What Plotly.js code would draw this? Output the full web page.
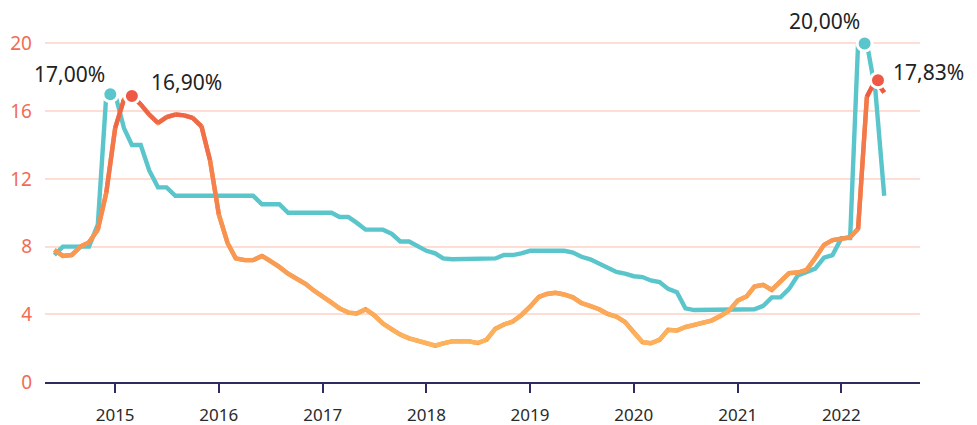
<!DOCTYPE html>
<html>
<head>
<meta charset="utf-8">
<script src="https://cdn.plot.ly/plotly-3.0.1.min.js"></script>
<style>html,body{margin:0;padding:0;background:#fff;}#chart{width:977px;height:425px;}</style>
</head>
<body>
<div id="chart"></div>
<script>
// Monthly dates (Jun 2014 – Jun 2022)
const months = [
 '2014-06','2014-07','2014-08','2014-09','2014-10','2014-11','2014-12',
 '2015-01','2015-02','2015-03','2015-04','2015-05','2015-06','2015-07','2015-08','2015-09','2015-10','2015-11','2015-12',
 '2016-01','2016-02','2016-03','2016-04','2016-05','2016-06','2016-07','2016-08','2016-09','2016-10','2016-11','2016-12',
 '2017-01','2017-02','2017-03','2017-04','2017-05','2017-06','2017-07','2017-08','2017-09','2017-10','2017-11','2017-12',
 '2018-01','2018-02','2018-03','2018-04','2018-05','2018-06','2018-07','2018-08','2018-09','2018-10','2018-11','2018-12',
 '2019-01','2019-02','2019-03','2019-04','2019-05','2019-06','2019-07','2019-08','2019-09','2019-10','2019-11','2019-12',
 '2020-01','2020-02','2020-03','2020-04','2020-05','2020-06','2020-07','2020-08','2020-09','2020-10','2020-11','2020-12',
 '2021-01','2021-02','2021-03','2021-04','2021-05','2021-06','2021-07','2021-08','2021-09','2021-10','2021-11','2021-12',
 '2022-01','2022-02','2022-03','2022-04','2022-05','2022-06'
];

// Key rate (teal)
const keyRate = [
 7.5, 8.0, 8.0, 8.0, 8.0, 9.3, 17.0,
 17.0, 15.0, 14.0, 14.0, 12.5, 11.5, 11.5, 11.0, 11.0, 11.0, 11.0, 11.0,
 11.0, 11.0, 11.0, 11.0, 11.0, 10.5, 10.5, 10.5, 10.0, 10.0, 10.0, 10.0,
 10.0, 10.0, 9.75, 9.75, 9.4, 9.0, 9.0, 9.0, 8.75, 8.3, 8.3, 8.0,
 7.75, 7.6, 7.3, 7.25, 7.25, 7.25, 7.25, 7.25, 7.3, 7.5, 7.5, 7.6,
 7.75, 7.75, 7.75, 7.75, 7.75, 7.65, 7.4, 7.25, 7.0, 6.75, 6.5, 6.4,
 6.25, 6.2, 6.0, 5.9, 5.5, 5.3, 4.35, 4.25, 4.25, 4.25, 4.25, 4.25,
 4.25, 4.25, 4.3, 4.5, 5.0, 5.0, 5.5, 6.3, 6.5, 6.7, 7.35, 7.5,
 8.5, 8.5, 20.0, 20.0, 17.2, 11.0
];

// Inflation (orange)
const inflation = [
 7.8, 7.45, 7.5, 8.0, 8.25, 9.0, 11.2,
 15.0, 16.7, 16.9, 16.4, 15.8, 15.3, 15.65, 15.8, 15.75, 15.6, 15.1, 13.1,
 9.9, 8.2, 7.3, 7.2, 7.2, 7.45, 7.15, 6.8, 6.4, 6.1, 5.8, 5.4,
 5.05, 4.7, 4.35, 4.1, 4.05, 4.3, 3.95, 3.45, 3.1, 2.8, 2.58, 2.45,
 2.3, 2.15, 2.28, 2.4, 2.4, 2.4, 2.3, 2.5, 3.15, 3.4, 3.57, 3.95,
 4.45, 5.03, 5.2, 5.27, 5.17, 5.0, 4.66, 4.5, 4.3, 4.02, 3.86, 3.55,
 2.92, 2.35, 2.29, 2.49, 3.08, 3.04, 3.25, 3.37, 3.51, 3.63, 3.9, 4.2,
 4.81, 5.05, 5.64, 5.74, 5.44, 5.94, 6.43, 6.47, 6.63, 7.32, 8.1, 8.38,
 8.46, 8.55, 9.05, 16.85, 17.83, 17.1
];

// Highlighted peaks
const ratePeakDates = ['2014-12-15', '2022-03-24'];
const ratePeakValues = [17.0, 20.0];
const ratePeakLabels = ['17,00%', '20,00%'];
const inflPeakDates = ['2015-03-01', '2022-05-10'];
const inflPeakValues = [16.9, 17.83];
const inflPeakLabels = ['16,90%', '17,83%'];

const yTicks = [0, 4, 8, 12, 16, 20];

const TEAL = '#5AC5CB';
const RED = '#EE5845';
const FONT = 'Noto Sans, Open Sans, sans-serif';

function orangeColor(v) {
  const stops = [[2, [253, 181, 92]], [9, [248, 146, 80]], [17.5, [237, 90, 68]]];
  if (v <= stops[0][0]) return 'rgb(' + stops[0][1].join(',') + ')';
  for (let i = 1; i < stops.length; i++) {
    if (v <= stops[i][0]) {
      const t = (v - stops[i - 1][0]) / (stops[i][0] - stops[i - 1][0]);
      const c = stops[i - 1][1].map((a, j) => Math.round(a + t * (stops[i][1][j] - a)));
      return 'rgb(' + c.join(',') + ')';
    }
  }
  return 'rgb(' + stops[stops.length - 1][1].join(',') + ')';
}

const traces = [];
traces.push({
  x: months, y: keyRate, type: 'scatter', mode: 'lines',
  line: {color: TEAL, width: 4.4}, hoverinfo: 'skip', showlegend: false
});
traces.push({
  x: months, y: inflation, type: 'scatter', mode: 'lines',
  line: {color: '#F6934F', width: 4.4}, hoverinfo: 'skip', showlegend: false
});
for (let i = 0; i < months.length - 1; i++) {
  traces.push({
    x: [months[i], months[i + 1]], y: [inflation[i], inflation[i + 1]],
    type: 'scatter', mode: 'lines',
    line: {color: orangeColor((inflation[i] + inflation[i + 1]) / 2), width: 4.4},
    hoverinfo: 'skip', showlegend: false
  });
}
traces.push({
  x: ratePeakDates, y: ratePeakValues, type: 'scatter', mode: 'markers',
  marker: {color: TEAL, size: 15, line: {color: '#ffffff', width: 3}},
  hoverinfo: 'skip', showlegend: false, cliponaxis: false
});
traces.push({
  x: inflPeakDates, y: inflPeakValues, type: 'scatter', mode: 'markers',
  marker: {color: RED, size: 15, line: {color: '#ffffff', width: 3}},
  hoverinfo: 'skip', showlegend: false, cliponaxis: false
});

const annStyle = {showarrow: false, font: {family: FONT, size: 21, color: '#222222'}, xref: 'x', yref: 'y'};
const annotations = [
  Object.assign({}, annStyle, {x: ratePeakDates[0], y: ratePeakValues[0], text: ratePeakLabels[0], xanchor: 'right', yanchor: 'middle', xshift: -3, yshift: 20}),
  Object.assign({}, annStyle, {x: inflPeakDates[0], y: inflPeakValues[0], text: inflPeakLabels[0], xanchor: 'left', yanchor: 'middle', xshift: 17, yshift: 14}),
  Object.assign({}, annStyle, {x: ratePeakDates[1], y: ratePeakValues[1], text: ratePeakLabels[1], xanchor: 'right', yanchor: 'middle', xshift: -3, yshift: 22}),
  Object.assign({}, annStyle, {x: inflPeakDates[1], y: inflPeakValues[1], text: inflPeakLabels[1], xanchor: 'left', yanchor: 'middle', xshift: 13, yshift: 8})
];

const layout = {
  width: 977, height: 425,
  margin: {l: 45, r: 57, t: 35, b: 43},
  paper_bgcolor: '#ffffff', plot_bgcolor: '#ffffff',
  showlegend: false,
  xaxis: {
    type: 'date', range: ['2014-04-29', '2022-10-05'],
    showgrid: false, zeroline: false,
    showline: true, linecolor: '#2E2B5F', linewidth: 2,
    ticks: 'outside', ticklen: 9, tickwidth: 2, tickcolor: '#2E2B5F',
    tick0: '2015-01-01', dtick: 'M12', tickformat: '%Y',
    tickfont: {family: FONT, size: 17, color: '#2a2a2a'},
    ticklabelstandoff: 8,
    fixedrange: true
  },
  yaxis: {
    range: [0, 20.5], tickvals: yTicks, ticktext: yTicks.map(String),
    showgrid: true, gridcolor: '#FDDDD4', gridwidth: 2,
    zeroline: false, showline: false, ticks: '',
    tickfont: {family: FONT, size: 19, color: '#F26B55'},
    ticklabelstandoff: 12,
    fixedrange: true
  },
  annotations: annotations
};

Plotly.newPlot('chart', traces, layout, {staticPlot: true, displayModeBar: false});
</script>
</body>
</html>
